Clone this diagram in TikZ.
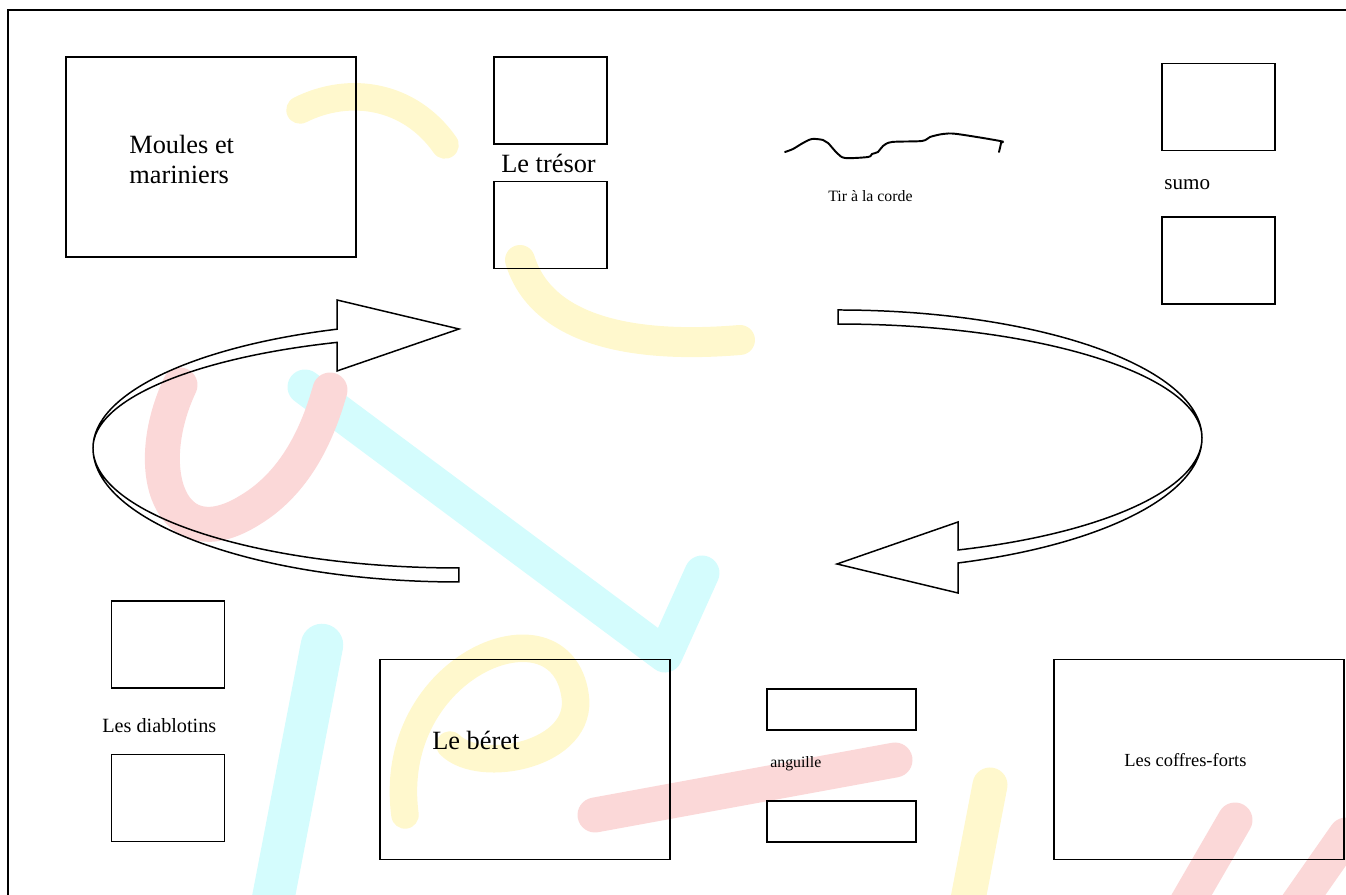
\documentclass[tikz,border=0pt]{standalone}
\usepackage{fontspec}
\setmainfont{Liberation Serif}
\usepackage{xcolor}
\definecolor{wmcyan}{RGB}{212,252,253}
\definecolor{wmpink}{RGB}{251,216,216}
\definecolor{wmyellow}{RGB}{255,248,205}

\begin{document}
\begin{tikzpicture}[x=0.02cm,y=0.02cm,
        cadre/.style={draw, line width=1.1pt, inner sep=0pt},
        grand/.style={cadre, minimum width=5.8cm, minimum height=4cm},
        carre/.style={cadre, minimum width=2.26cm, minimum height=1.74cm},
        barre/.style={cadre, minimum width=2.98cm, minimum height=0.82cm},
        etiq/.style={inner sep=0pt, anchor=base west, font=#1},
        etiq/.default=\normalsize,
        ruban/.style={draw, line width=0.85pt, line join=miter},
        pinceau/.style={line width=0.7cm, line cap=round, line join=round}]
        \useasboundingbox (0,0) rectangle (1346,895);
        \draw[pinceau, wmcyan] (305,508) -- (665,240) -- (702,322);
        \draw[pinceau, wmcyan, line width=0.85cm] (322,250) -- (270,-20);
        \draw[pinceau, wmpink] (180,510) .. controls (140,425) and (170,335) .. (250,385) .. controls (300,415) and (320,470) .. (330,505);
        \draw[pinceau, wmpink] (595,80) -- (895,135);
        \draw[pinceau, wmpink] (1180,-20) -- (1235,75);
        \draw[pinceau, wmpink] (1290,-20) -- (1346,60);
        \draw[pinceau, wmyellow, line width=0.6cm] (520,635) .. controls (540,570) and (620,545) .. (740,555);
        \draw[pinceau, wmyellow, line width=0.55cm] (300,785) .. controls (350,810) and (410,800) .. (445,750);
        \draw[pinceau, wmyellow, line width=0.55cm] (405,80) .. controls (385,230) and (560,300) .. (575,200) .. controls (585,140) and (480,120) .. (450,150);
        \draw[pinceau, wmyellow] (965,-20) -- (990,110);
        \draw[line width=1.1pt] (8,0) -- (8,885) -- (1346,885);
        \node[grand](moules) at (211,738) {};
        \node[etiq={\fontsize{15}{17.6}\selectfont}, align=left](moulestxt) at (129,711) {Moules et\\mariniers};
        \node[carre](tresorA) at (550.5,794.5) {};
        \node[carre](tresorB) at (550.5,670) {};
        \node[etiq={\fontsize{15}{18}\selectfont}](tresortxt) at (501,722) {Le trésor};
        \draw[line width=1.1pt, line cap=round] plot[smooth, tension=0.5] coordinates {(785,743) (793,746) (803,752) (812,756) (823,755) (828,752) (837,742) (845,737) (868,738) (872,741) (878,743) (883,749) (892,753) (922,754) (930,758) (943,761) (957,761) (1000,754) (1001,752) (999,743)};
        \node[etiq={\fontsize{9}{11}\selectfont}](cordetxt) at (828,693) {Tir à la corde};
        \node[carre](sumoA) at (1218.5,788) {};
        \node[carre](sumoB) at (1218.5,634.5) {};
        \node[etiq={\fontsize{12}{14}\selectfont}](sumotxt) at (1164,705) {sumo};
        \draw[ruban] (337,565.8) arc[start angle=109.47, end angle=180, x radius=366, y radius=126]
                arc[start angle=180, end angle=270, x radius=366, y radius=134] -- ++(0,14)
                arc[start angle=270, end angle=180, x radius=366, y radius=120]
                arc[start angle=180, end angle=109.47, x radius=366, y radius=112]
                -- (337,524) -- (459,566) -- (337,595) -- cycle;
        \draw[ruban] (838,585) arc[start angle=90, end angle=0, x radius=364, y radius=128]
                arc[start angle=0, end angle=-70.75, x radius=364, y radius=132.4]
                -- (958,302) -- (837,331) -- (958,373) -- (958,345)
                arc[start angle=-70.75, end angle=0, x radius=364, y radius=118.6]
                arc[start angle=0, end angle=90, x radius=364, y radius=114] -- cycle;
        \node[carre](diabA) at (168,250.5) {};
        \node[carre](diabB) at (168,97) {};
        \node[etiq={\fontsize{11.5}{14}\selectfont}](diabtxt) at (102,162) {Les diablotins};
        \node[grand](beret) at (525,135.5) {};
        \node[etiq={\fontsize{15}{18}\selectfont}](berettxt) at (432,145) {Le béret};
        \node[barre](anguilleA) at (841.5,185.5) {};
        \node[barre](anguilleB) at (841.5,73.5) {};
        \node[etiq={\fontsize{9}{11}\selectfont}](anguilletxt) at (770,127) {anguille};
        \node[grand](coffres) at (1199,135.5) {};
        \node[etiq={\fontsize{10.5}{12.5}\selectfont}](coffrestxt) at (1124,128) {Les coffres-forts};
\end{tikzpicture}
\end{document}
